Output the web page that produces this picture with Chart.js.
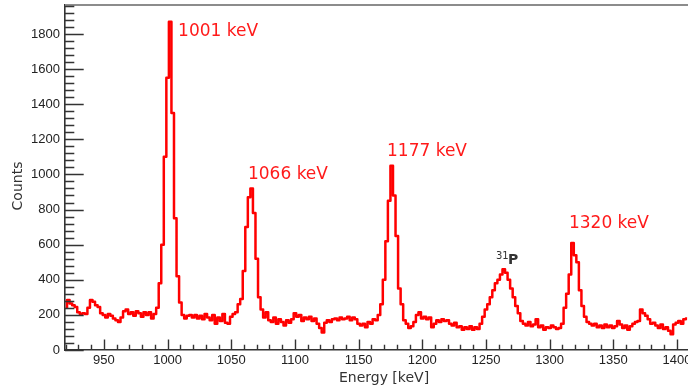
<!DOCTYPE html>
<html>
<head>
<meta charset="utf-8">
<title>Energy spectrum</title>
<script src="https://cdn.jsdelivr.net/npm/chart.js@4.4.1/dist/chart.umd.min.js"></script>
<style>
  html, body { margin: 0; padding: 0; background: #fff; overflow: hidden; }
  #chart { display: block; }
</style>
</head>
<body>
<canvas id="chart" width="688" height="392"></canvas>
<script>
// spectrum, 2 keV bins, first bin centred on 920 keV
const binStart = 920;
const binWidth = 2;
const counts = [
  240, 285, 265, 255, 245, 215, 205, 210, 205, 240,   // 920
  285, 275, 255, 245, 210, 200, 185, 205, 195, 180,   // 940
  170, 160, 185, 220, 230, 205, 215, 195, 220, 210,   // 960
  190, 215, 200, 215, 180, 205, 240, 380, 600, 1100,  // 980
  1550, 1870, 1350, 750, 420, 270, 200, 180, 195, 200, // 1000
  185, 200, 180, 195, 175, 205, 185, 170, 200, 150,   // 1020
  185, 165, 205, 155, 150, 190, 205, 215, 260, 290,   // 1040
  450, 700, 870, 920, 780, 520, 300, 230, 185, 215,   // 1060
  170, 160, 185, 150, 175, 160, 140, 170, 155, 175,   // 1080
  210, 190, 200, 165, 185, 175, 190, 165, 180, 150,   // 1100
  125, 100, 155, 170, 160, 175, 180, 170, 185, 175,   // 1120
  180, 190, 170, 185, 175, 150, 140, 150, 130, 160,   // 1140
  150, 175, 170, 200, 260, 400, 620, 850, 1050, 880,  // 1160
  650, 350, 260, 170, 150, 125, 135, 160, 200, 215,   // 1180
  180, 190, 175, 185, 130, 150, 170, 160, 175, 165,   // 1200
  170, 150, 140, 155, 130, 135, 115, 130, 120, 135,   // 1220
  115, 130, 120, 150, 190, 230, 260, 300, 340, 380,   // 1240
  400, 430, 460, 440, 400, 350, 300, 250, 210, 165,   // 1260
  150, 140, 160, 135, 145, 175, 130, 140, 115, 130,   // 1280
  125, 140, 130, 120, 125, 150, 240, 320, 430, 610,   // 1300
  540, 500, 340, 250, 190, 160, 150, 140, 150, 130,   // 1320
  140, 125, 145, 130, 140, 125, 135, 165, 145, 125,   // 1340
  140, 115, 135, 150, 160, 165, 230, 210, 195, 175,   // 1360
  150, 155, 140, 125, 145, 120, 130, 110, 90, 145,    // 1380
  155, 165, 150, 175, 180                              // 1400
];

const xTicks = [950, 1000, 1050, 1100, 1150, 1200, 1250, 1300, 1350, 1400];
const yTicks = [0, 200, 400, 600, 800, 1000, 1200, 1400, 1600, 1800];
const xMinorStep = 10;
const yMinorStep = 40;

// peak labels, anchored in data units (left edge, vertical middle)
const peakLabels = [
  { text: '1001 keV', energy: 1008.2, count: 1811 },
  { text: '1066 keV', energy: 1063.1, count: 997 },
  { text: '1177 keV', energy: 1172.3, count: 1128 },
  { text: '1320 keV', energy: 1315.2, count: 718 }
];
const isotopeLabel = { mass: '31', symbol: 'P', energy: 1257.9, count: 488 };

const spectrum = counts.map((c, i) => ({ x: binStart + i * binWidth, y: c }));

// ROOT-style frame: inward ticks, top line, axis titles, labels
const rootFrame = {
  id: 'rootFrame',
  afterDatasetsDraw(chart) {
    const { ctx, chartArea: a, scales: { x, y } } = chart;
    ctx.save();

    ctx.strokeStyle = '#8c8c8c';
    ctx.lineWidth = 2;
    ctx.beginPath();
    ctx.moveTo(a.left, a.top);
    ctx.lineTo(a.right, a.top);
    ctx.stroke();

    ctx.strokeStyle = '#333';
    ctx.lineWidth = 1.4;
    ctx.beginPath();
    for (let v = Math.ceil(x.min / xMinorStep) * xMinorStep; v <= x.max; v += xMinorStep) {
      const px = Math.round(x.getPixelForValue(v)) + 0.5;
      const len = v % 50 === 0 ? 10.5 : 5.2;
      ctx.moveTo(px, a.bottom);
      ctx.lineTo(px, a.bottom - len);
    }
    for (let v = 0; v <= y.max; v += yMinorStep) {
      const py = Math.round(y.getPixelForValue(v)) + 0.5;
      const len = v % 200 === 0 ? 18.7 : 9.3;
      ctx.moveTo(a.left, py);
      ctx.lineTo(a.left + len, py);
    }
    ctx.stroke();

    // axis titles
    ctx.fillStyle = '#333';
    ctx.font = '14px "DejaVu Sans"';
    ctx.textAlign = 'center';
    ctx.textBaseline = 'middle';
    ctx.fillText('Energy [keV]', 384, 378);
    ctx.save();
    ctx.translate(18, 186);
    ctx.rotate(-Math.PI / 2);
    ctx.fillText('Counts', 0, 0);
    ctx.restore();

    // peak labels
    ctx.fillStyle = '#ff1a1a';
    ctx.font = '17px "DejaVu Sans"';
    ctx.textAlign = 'left';
    peakLabels.forEach(l => {
      ctx.fillText(l.text, x.getPixelForValue(l.energy), y.getPixelForValue(l.count));
    });

    // 31P
    const ix = x.getPixelForValue(isotopeLabel.energy);
    const iy = y.getPixelForValue(isotopeLabel.count);
    ctx.fillStyle = '#333';
    ctx.textBaseline = 'alphabetic';
    ctx.font = '10px "DejaVu Sans"';
    ctx.fillText(isotopeLabel.mass, ix, iy - 5);
    ctx.font = 'bold 14px "DejaVu Sans"';
    ctx.fillText(isotopeLabel.symbol, ix + 12, iy);

    ctx.restore();
  }
};

const tickFont = { family: '"Liberation Sans", Arial, sans-serif', size: 13 };

new Chart(document.getElementById('chart'), {
  type: 'line',
  data: {
    datasets: [{
      data: spectrum,
      stepped: 'middle',
      borderColor: '#ff0000',
      borderWidth: 2.5,
      borderJoinStyle: 'round',
      pointRadius: 0,
      fill: false
    }]
  },
  options: {
    responsive: false,
    animation: false,
    layout: { padding: { top: 5, left: 0, right: 0, bottom: 0 } },
    plugins: {
      legend: { display: false },
      tooltip: { enabled: false }
    },
    scales: {
      x: {
        type: 'linear',
        min: 919.4,
        max: 1408.7,
        grid: { display: false, drawTicks: false },
        border: { display: true, color: '#333', width: 1.6 },
        ticks: {
          font: tickFont,
          color: '#222',
          padding: 3,
          maxRotation: 0,
          autoSkip: false,
          callback: v => String(v)
        },
        afterBuildTicks: s => { s.ticks = xTicks.map(v => ({ value: v })); },
        afterFit: s => { s.height = 42; s.paddingLeft = 0; s.paddingRight = 0; }
      },
      y: {
        min: 0,
        max: 1965,
        grid: { display: false, drawTicks: false },
        border: { display: true, color: '#333', width: 1.6 },
        ticks: {
          font: tickFont,
          color: '#222',
          padding: 5,
          callback: v => String(v)
        },
        afterBuildTicks: s => { s.ticks = yTicks.map(v => ({ value: v })); },
        afterFit: s => { s.width = 65; s.paddingTop = 0; s.paddingBottom = 0; }
      }
    }
  },
  plugins: [rootFrame]
});
</script>
</body>
</html>
